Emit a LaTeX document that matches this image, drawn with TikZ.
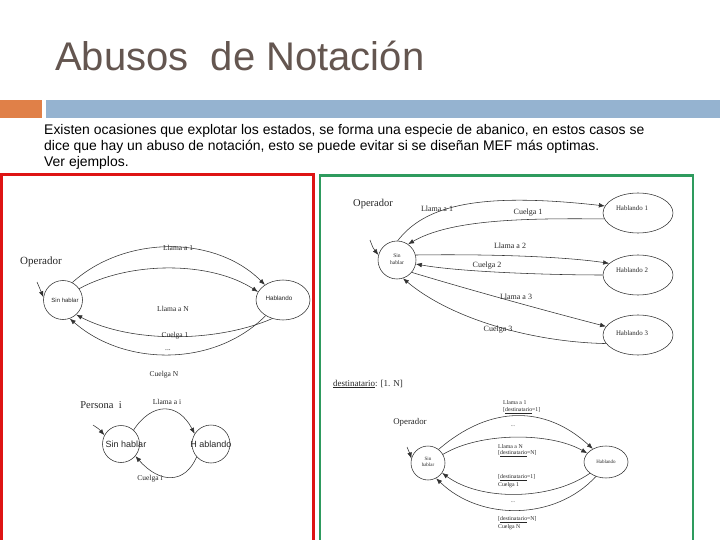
\documentclass[tikz,border=0pt]{standalone}
\usepackage{fontspec}
\setmainfont{Liberation Serif}
\newfontfamily\arialf{Liberation Sans}
\usetikzlibrary{arrows.meta,shapes.geometric}
\definecolor{titlec}{RGB}{100,86,80}
\definecolor{orangebar}{RGB}{224,128,72}
\definecolor{bluebar}{RGB}{149,179,208}
\definecolor{redbox}{RGB}{222,20,20}
\definecolor{greenbox}{RGB}{46,155,94}
\definecolor{ln}{RGB}{50,50,50}
\newcommand\fsz[2]{\fontsize{#1}{#2}\selectfont}
\tikzset{
  st/.style={draw=ln, line width=0.55pt, circle, inner sep=0pt},
  stE/.style={draw=ln, line width=0.55pt, ellipse, inner sep=0pt},
  tr/.style={draw=ln, line width=0.55pt, -{Latex[length=6pt,width=4.6pt]}},
  txt/.style={inner sep=0pt, text=black!85},
  lab/.style={txt, font=\fsz{7.5}{8.5}},
  labR/.style={txt, font=\fsz{8}{9}},
  labT/.style={txt, anchor=west, font=\fsz{5.8}{6.8}},
  body/.style={inner sep=0pt, anchor=base west, font=\arialf\fsz{13.95}{16}},
}
\begin{document}
\begin{tikzpicture}[x=1pt,y=-1pt]
\useasboundingbox (0,0) rectangle (720,540);
\fill[white] (0,0) rectangle (720,540);
% header
\node[anchor=base west, inner sep=0pt, text=titlec, font=\arialf\fsz{40}{45}] (title) at (55,71) {Abusos\ \ de Notación};
\fill[orangebar] (0,100) rectangle (42,118.5);
\fill[bluebar] (46,100) rectangle (720,118.5);
\node[body] (b1) at (44,135) {Existen ocasiones que explotar los estados, se forma una especie de abanico, en estos casos se};
\node[body] (b2) at (44,151) {dice que hay un abuso de notación, esto se puede evitar si se diseñan MEF más optimas.};
\node[body] (b3) at (44,167) {Ver ejemplos.};
% frames
\draw[redbox, line width=3pt] (1.5,545) -- (1.5,174.5) -- (313.5,174.5) -- (313.5,545);
\draw[greenbox, line width=2.5pt] (320,545) -- (320,175.5) -- (693,175.5) -- (693,545);

% ===== left top =====
\node[txt, font=\fsz{11}{12}] (Lop) at (41,262) {Operador};
\node[st, minimum size=39pt] (Ls) at (63,300) {};
\node[txt, font=\arialf\fsz{6}{7}] (Lst) at (65,300) {Sin hablar};
\node[stE, minimum width=54pt, minimum height=40pt] (Lh) at (283,300) {};
\node[txt, font=\arialf\fsz{6.3}{7}] (Lht) at (279,298) {Hablando};
\coordinate (Li) at (37,282);
\draw[tr] (Li) .. controls (40,289) .. (Ls.172);
\draw[tr] (Ls.62) .. controls (125,235) and (215,235) .. (Lh.140);
\draw[tr] (Ls.35) .. controls (130,261) and (210,261) .. (Lh.162);
\draw[tr] (Lh.240) .. controls (215,343) and (130,343) .. (Ls.-48);
\draw[tr] (Lh.222) .. controls (215,367) and (125,367) .. (Ls.-70);
\node[lab] (Ll1) at (178,248) {Llama a 1};
\node[lab] (LlN) at (173,309) {Llama a N};
\node[lab] (Lc1) at (175,336) {Cuelga 1};
\node[lab] (Ldots) at (168,350) {...};
\node[lab] (LcN) at (164,375) {Cuelga N};

% ===== left bottom =====
\node[txt, font=\fsz{10.5}{11.5}] (Bp) at (101,405) {Persona\ \ i};
\node[st, minimum size=37pt] (Bs) at (121,444) {};
\node[txt, font=\arialf\fsz{9}{10}] (Bst) at (126,444) {Sin hablar};
\node[st, minimum size=38pt] (Bh) at (211,444) {};
\node[txt, font=\arialf\fsz{9}{10}] (Bht) at (211,444) {H ablando};
\coordinate (Bi) at (93,425);
\draw[tr] (Bi) .. controls (99,429) .. (Bs.152);
\draw[tr] (Bs.48) .. controls (152,402) and (178,402) .. (Bh.148);
\draw[tr] (Bh.222) .. controls (185,484) and (160,484) .. (Bs.-40);
\node[lab] (Bl) at (167,402) {Llama a i};
\node[lab] (Bc) at (150,479) {Cuelga i};

% ===== right top =====
\node[txt, font=\fsz{10.5}{11.5}] (Rop) at (373,204) {Operador};
\node[st, minimum size=38pt] (Rs) at (397,260) {};
\node[txt, font=\fsz{5.5}{6.5}, align=center] (Rst) at (397,259) {Sin\\hablar};
\node[stE, minimum width=70pt, minimum height=40pt] (H1) at (638,213) {};
\node[txt, font=\fsz{6.9}{8}] (H1t) at (632,208) {Hablando 1};
\node[stE, minimum width=70pt, minimum height=40pt] (H2) at (638,275) {};
\node[txt, font=\fsz{6.9}{8}] (H2t) at (632,270) {Hablando 2};
\node[stE, minimum width=70pt, minimum height=40pt] (H3) at (638,335) {};
\node[txt, font=\fsz{6.9}{8}] (H3t) at (632,333) {Hablando 3};
\coordinate (Ri) at (370,240);
\draw[tr] (Ri) .. controls (373,248) .. (Rs.165);
\draw[tr] (Rs.88) .. controls (425,205) and (480,192) .. (H1.168);
\draw[tr] (H1.190) .. controls (520,218) and (450,220) .. (Rs.55);
\draw[tr] (Rs.15) .. controls (480,254) and (560,256) .. (H2.158);
\draw[tr] (H2.180) .. controls (550,275) and (460,272) .. (Rs.-12);
\draw[tr] (Rs.-40) .. controls (470,290) and (550,312) .. (H3.165);
\draw[tr] (H3.195) .. controls (530,342) and (450,318) .. (Rs.-72);
\node[labR] (Rl1) at (437,209) {Llama a 1};
\node[labR] (Rc1) at (528,213) {Cuelga 1};
\node[labR] (Rl2) at (510,246) {Llama a 2};
\node[labR] (Rc2) at (487,266) {Cuelga 2};
\node[labR] (Rl3) at (516,297) {Llama a 3};
\node[labR] (Rc3) at (498,330) {Cuelga 3};

% ===== right bottom =====
\node[txt, anchor=west, font=\fsz{9}{10}] (dest) at (333,384) {\underline{destinatario}: [1. N]};
\node[txt, font=\fsz{8.8}{10}] (Top) at (410,422) {Operador};
\node[st, minimum size=34pt] (Ts) at (428,463) {};
\node[txt, font=\fsz{5}{6}, align=center] (Tst) at (428,462) {Sin\\hablar};
\node[stE, minimum width=44pt, minimum height=32pt] (Th) at (606,462) {};
\node[txt, font=\fsz{5}{6}] (Tht) at (606,462) {Hablando};
\coordinate (Ti) at (407,447);
\draw[tr] (Ti) .. controls (410,454) .. (Ts.165);
\draw[tr] (Ts.52) .. controls (490,405) and (545,405) .. (Th.135);
\draw[tr] (Ts.30) .. controls (480,432) and (550,432) .. (Th.155);
\draw[tr] (Th.215) .. controls (550,501) and (480,501) .. (Ts.-35);
\draw[tr] (Th.235) .. controls (555,521) and (480,521) .. (Ts.-62);
\node[labT] (Tl1) at (503,403) {Llama a 1};
\node[labT] (Td1) at (503,411) {[\underline{destinatario}=1]};
\node[txt, font=\fsz{5.5}{6.5}] (Tdots1) at (513,426) {...};
\node[labT] (TlN) at (498,447) {Llama a N};
\node[labT] (TdN) at (498,454) {[\underline{destinatario}=N]};
\node[labT] (Tc1d) at (498,478) {[\underline{destinatario}=1]};
\node[labT] (Tc1) at (498,485) {Cuelga 1};
\node[txt, font=\fsz{5.5}{6.5}] (Tdots2) at (513,502) {...};
\node[labT] (TcNd) at (498,520) {[\underline{destinatario}=N]};
\node[labT] (TcN) at (498,527) {Cuelga N};
\end{tikzpicture}
\end{document}
